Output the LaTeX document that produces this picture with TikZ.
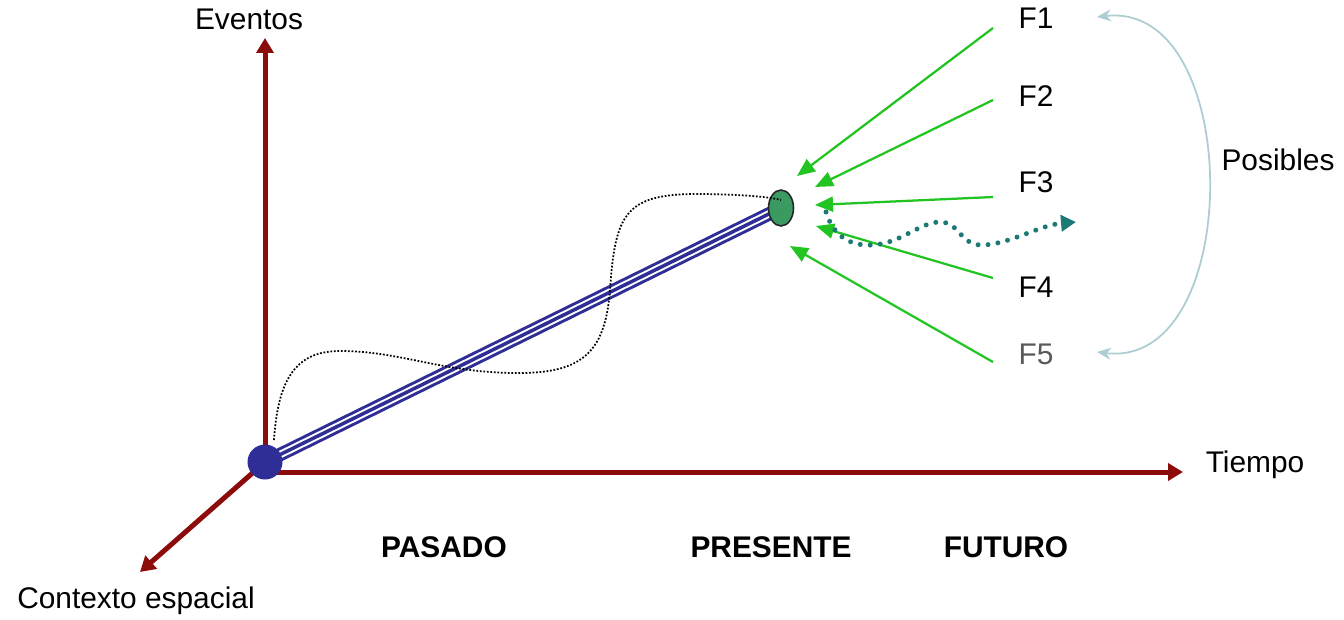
\documentclass[tikz,border=0pt]{standalone}
\usepackage{fontspec}
\setmainfont{Liberation Sans}
\usetikzlibrary{arrows.meta, shapes.geometric}
\definecolor{ejerojo}{RGB}{140,12,12}
\definecolor{lineaazul}{RGB}{46,46,150}
\definecolor{verdefut}{RGB}{34,196,34}
\definecolor{verdepres}{RGB}{58,154,98}
\definecolor{turquesa}{RGB}{28,122,118}
\definecolor{arcogris}{RGB}{172,205,210}
\tikzset{
  etiq/.style={font=\fontsize{17}{20}\selectfont, inner sep=0pt},
  tiempo/.style={font=\fontsize{17}{20}\selectfont\bfseries, inner sep=0pt},
  eje/.style={ejerojo, line width=0.1cm, -{Triangle[length=0.3cm,width=0.34cm]}},
  fut/.style={verdefut, line width=0.045cm, -{Triangle[length=0.36cm,width=0.3cm]}},
  origen/.style={circle, fill=lineaazul, minimum size=0.7cm, inner sep=0pt},
  presente/.style={ellipse, fill=verdepres, draw=black!85, line width=0.9pt, minimum width=0.5cm, minimum height=0.72cm, inner sep=0pt}
}

\begin{document}
\begin{tikzpicture}[x=0.02cm, y=-0.02cm]
            \useasboundingbox (0,0) rectangle (1344,619);
            \coordinate (O) at (265,462);
            \coordinate (P) at (781,208);
            \coordinate (ev) at (265,38);
            \coordinate (h0) at (265,472);
            \coordinate (ti) at (1183,472);
            \coordinate (ce) at (140,572);

            \draw[eje] (O) -- (ev);
            \draw[eje] (h0) -- (ti);
            \draw[eje] (O) -- (ce);

            % linea del pasado
            \draw[lineaazul, line width=0.27cm] (O) -- (P);
            \draw[white, line width=0.15cm] (O) -- (P);
            \draw[lineaazul, line width=0.07cm] (O) -- (P);

            \node[origen] (orig) at (O) {};
            \node[presente] (pres) at (P) {};

            \coordinate (ds) at (274,440);
            \coordinate (de) at (781,200);
            \draw[black, line width=1pt, dash pattern=on 1pt off 1pt] (ds) .. controls (278,380) and (295,351) .. (340,351)
              .. controls (400,351) and (440,372) .. (513,373)
              .. controls (580,374) and (605,355) .. (610,290)
              .. controls (615,215) and (625,195) .. (693,194)
              .. controls (740,194) and (770,197) .. (de);

            \foreach \i/\sy/\ex/\ey in {1/28/797/176, 2/100/815/187, 3/197/815/205, 4/278/816/226, 5/362/790/246} {
              \coordinate (s\i) at (993,\sy);
              \coordinate (e\i) at (\ex,\ey);
              \draw[fut] (s\i) -- (e\i);
            }

            \coordinate (w0) at (826,212);
            \coordinate (w1) at (1076,222);
            \draw[turquesa, line width=0.1cm, line cap=round, dash pattern=on 0pt off 0.2cm,
                  -{Triangle[length=0.3cm,width=0.32cm]}]
              (w0) .. controls (834,238) and (852,246) .. (872,245)
              .. controls (900,244) and (920,222) .. (940,222)
              .. controls (960,222) and (960,246) .. (983,245)
              .. controls (1010,244) and (1040,225) .. (w1);

            \coordinate (a0) at (1097,17);
            \coordinate (a1) at (1097,352);
            \draw[arcogris, line width=0.035cm, {Stealth[length=0.28cm,width=0.24cm]}-{Stealth[length=0.28cm,width=0.24cm]}]
              (a0) .. controls (1245,0) and (1245,370) .. (a1);

            \node[etiq] (eventos) at (249,19) {Eventos};
            \node[etiq] (tiempo) at (1255,465) {Tiempo};
            \node[etiq] (contexto) at (136,601) {Contexto espacial};
            \node[etiq] (posibles) at (1278,160) {Posibles};
            \node[tiempo] (pasado) at (444,547) {PASADO};
            \node[tiempo] (presente) at (771,547) {PRESENTE};
            \node[tiempo] (futuro) at (1006,547) {FUTURO};
            \node[etiq] (f1) at (1036,18) {F1};
            \node[etiq] (f2) at (1036,96) {F2};
            \node[etiq] (f3) at (1036,182) {F3};
            \node[etiq] (f4) at (1036,287) {F4};
            \node[etiq, black!65] (f5) at (1036,354) {F5};
        \end{tikzpicture}
\end{document}
